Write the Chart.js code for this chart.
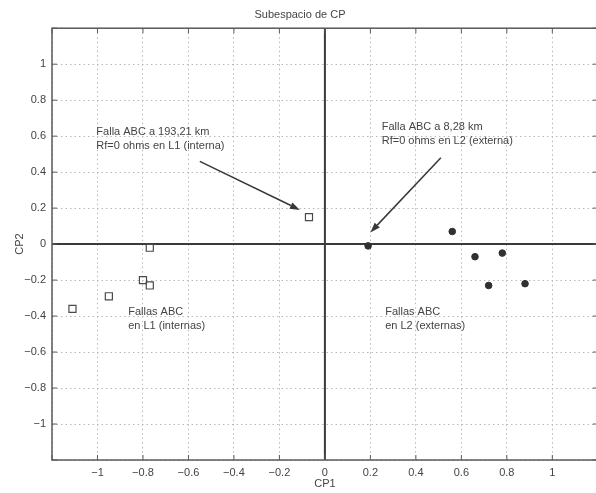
<!DOCTYPE html>
<html lang="es">
<head>
<meta charset="utf-8">
<title>Subespacio de CP</title>
<script src="https://cdn.jsdelivr.net/npm/chart.js@4.4.0/dist/chart.umd.min.js"></script>
<style>
  html, body { margin: 0; padding: 0; background: #fff; overflow: hidden; }
  .wrap { width: 596px; height: 493px; overflow: hidden; }
  canvas { display: block; }
</style>
</head>
<body>
<div class="wrap">
  <canvas id="cpChart" width="604" height="493"></canvas>
</div>
<script>
// Fallas en L1 (cuadrados abiertos) y en L2 (puntos llenos)
const l1X = [-0.07, -0.77, -0.80, -0.77, -0.95, -1.11];
const l1Y = [0.15, -0.02, -0.20, -0.23, -0.29, -0.36];
const l2X = [0.19, 0.56, 0.66, 0.78, 0.72, 0.88];
const l2Y = [-0.01, 0.07, -0.07, -0.05, -0.23, -0.22];

const axisMin = -1.2;
const axisMax = 1.2;
const tickStep = 0.2;

const noteLines = [
  ['Falla ABC a 193,21 km', 'Rf=0 ohms en L1 (interna)'],
  ['Falla ABC a 8,28 km', 'Rf=0 ohms en L2 (externa)'],
  ['Fallas ABC', 'en L1 (internas)'],
  ['Fallas ABC', 'en L2 (externas)']
];
const noteX = [-1.005, 0.25, -0.865, 0.265];
const noteY = [0.625, 0.65, -0.375, -0.375];

const arrowFromX = [-0.55, 0.51];
const arrowFromY = [0.46, 0.48];
const arrowToX = [-0.11, 0.2];
const arrowToY = [0.19, 0.065];

const textColor = '#444';
const fontFamily = '"Liberation Sans", Arial, Helvetica, sans-serif';

function formatTick(value) {
  const r = Math.round(value * 10) / 10;
  if (Math.abs(r) > 1.05) return '';
  return String(r).replace('-', '\u2212');
}

const matlabAxes = {
  id: 'matlabAxes',
  beforeDatasetsDraw(chart) {
    const { ctx, chartArea: area, scales: { x, y } } = chart;
    ctx.save();

    // ejes en cero
    ctx.strokeStyle = '#3a3a3a';
    ctx.lineWidth = 2;
    ctx.beginPath();
    const x0 = x.getPixelForValue(0);
    const y0 = y.getPixelForValue(0);
    ctx.moveTo(x0, area.top);
    ctx.lineTo(x0, area.bottom);
    ctx.moveTo(area.left, y0);
    ctx.lineTo(area.right, y0);
    ctx.stroke();

    // marco y marcas hacia adentro
    ctx.strokeStyle = '#5a5a5a';
    ctx.lineWidth = 1.5;
    ctx.strokeRect(area.left, area.top, area.right - area.left, area.bottom - area.top);
    ctx.lineWidth = 1;
    ctx.beginPath();
    x.ticks.forEach((t) => {
      const px = x.getPixelForValue(t.value);
      ctx.moveTo(px, area.bottom);
      ctx.lineTo(px, area.bottom - 5);
      ctx.moveTo(px, area.top);
      ctx.lineTo(px, area.top + 5);
    });
    y.ticks.forEach((t) => {
      const py = y.getPixelForValue(t.value);
      ctx.moveTo(area.left, py);
      ctx.lineTo(area.left + 5, py);
      ctx.moveTo(area.right, py);
      ctx.lineTo(area.right - 5, py);
    });
    ctx.stroke();
    ctx.restore();
  },
  afterDatasetsDraw(chart) {
    const { ctx, scales: { x, y } } = chart;
    ctx.save();

    // flechas
    ctx.strokeStyle = '#383838';
    ctx.fillStyle = '#383838';
    ctx.lineWidth = 1.5;
    arrowFromX.forEach((fx, i) => {
      const x1 = x.getPixelForValue(fx);
      const y1 = y.getPixelForValue(arrowFromY[i]);
      const x2 = x.getPixelForValue(arrowToX[i]);
      const y2 = y.getPixelForValue(arrowToY[i]);
      const ang = Math.atan2(y2 - y1, x2 - x1);
      const headLen = 10;
      const headW = 3.5;
      const bx = x2 - headLen * Math.cos(ang);
      const by = y2 - headLen * Math.sin(ang);
      ctx.beginPath();
      ctx.moveTo(x1, y1);
      ctx.lineTo(bx, by);
      ctx.stroke();
      ctx.beginPath();
      ctx.moveTo(x2, y2);
      ctx.lineTo(bx + headW * Math.sin(ang), by - headW * Math.cos(ang));
      ctx.lineTo(bx - headW * Math.sin(ang), by + headW * Math.cos(ang));
      ctx.closePath();
      ctx.fill();
    });

    // textos
    ctx.fillStyle = textColor;
    ctx.font = `11px ${fontFamily}`;
    ctx.textAlign = 'left';
    ctx.textBaseline = 'middle';
    noteLines.forEach((lines, i) => {
      const px = x.getPixelForValue(noteX[i]);
      const py = y.getPixelForValue(noteY[i]);
      lines.forEach((line, j) => ctx.fillText(line, px, py + j * 14));
    });
    ctx.restore();
  }
};

const scaleBase = {
  type: 'linear',
  min: axisMin,
  max: axisMax,
  ticks: {
    stepSize: tickStep,
    autoSkip: false,
    maxRotation: 0,
    color: textColor,
    font: { family: fontFamily, size: 11 },
    callback: formatTick
  },
  grid: { color: '#b8b8b8', lineWidth: 1, drawTicks: false },
  border: { display: false, dash: [1.5, 3] }
};

new Chart(document.getElementById('cpChart'), {
  type: 'scatter',
  data: {
    datasets: [
      {
        label: 'L1',
        data: l1X.map((v, i) => ({ x: v, y: l1Y[i] })),
        pointStyle: 'rect',
        pointRadius: 5,
        borderColor: '#4a4a4a',
        borderWidth: 1.2,
        backgroundColor: 'rgba(255,255,255,0)'
      },
      {
        label: 'L2',
        data: l2X.map((v, i) => ({ x: v, y: l2Y[i] })),
        pointStyle: 'circle',
        pointRadius: 3.3,
        borderColor: '#303030',
        borderWidth: 1,
        backgroundColor: '#303030'
      }
    ]
  },
  options: {
    responsive: false,
    animation: false,
    layout: { padding: { top: 0, right: 4, bottom: 0, left: 0 } },
    plugins: {
      legend: { display: false },
      tooltip: { enabled: false },
      title: {
        display: true,
        text: 'Subespacio de CP',
        color: textColor,
        font: { family: fontFamily, size: 11, weight: 'normal' },
        padding: { top: 8, bottom: 7 }
      }
    },
    scales: {
      x: {
        ...scaleBase,
        ticks: { ...scaleBase.ticks, padding: 6 },
        title: {
          display: true,
          text: 'CP1',
          color: textColor,
          font: { family: fontFamily, size: 11 },
          padding: { top: 0, bottom: 2 }
        },
        afterFit: (s) => { s.height = 33; }
      },
      y: {
        ...scaleBase,
        ticks: { ...scaleBase.ticks, padding: 6 },
        title: {
          display: true,
          text: 'CP2',
          color: textColor,
          font: { family: fontFamily, size: 11 },
          padding: { top: 13, bottom: 0 }
        },
        afterFit: (s) => { s.width = 52; }
      }
    }
  },
  plugins: [matlabAxes]
});
</script>
</body>
</html>
